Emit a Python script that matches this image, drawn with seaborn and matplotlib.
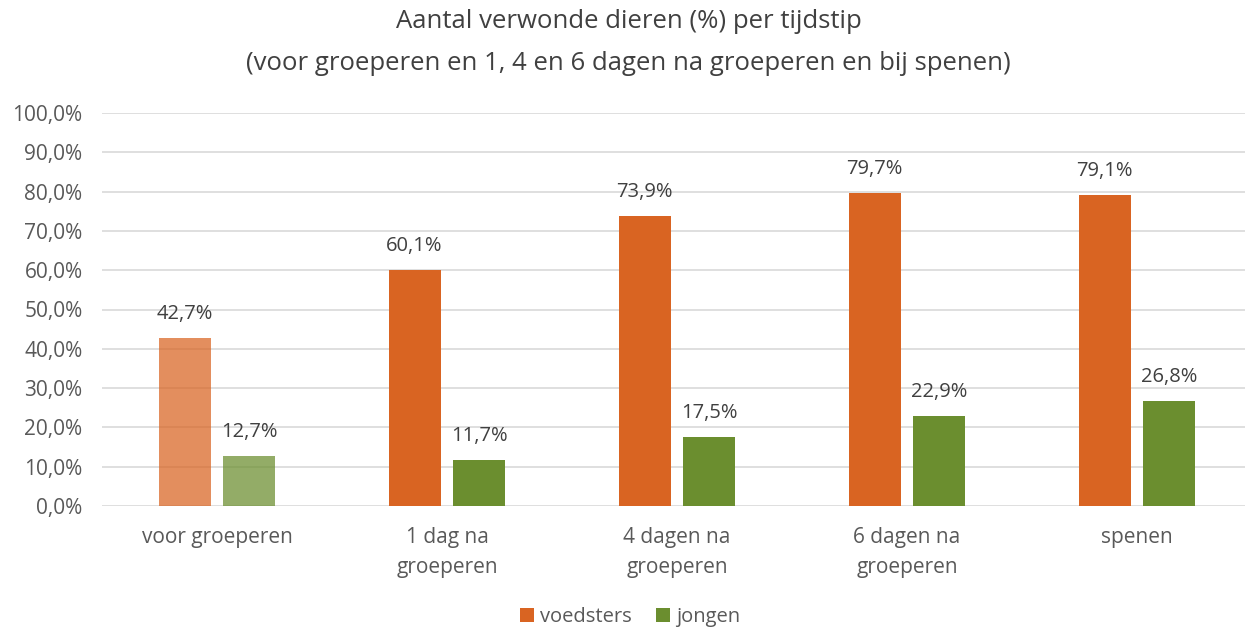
import numpy as np
import pandas as pd
import matplotlib
matplotlib.use("Agg")
import matplotlib.pyplot as plt
import seaborn as sns

# -- Datos ---------------------------------------------------------------------
tijdstippen = ["voor groeperen", "1 dag na\ngroeperen", "4 dagen na\ngroeperen",
               "6 dagen na\ngroeperen", "spenen"]
voedsters = [42.7, 60.1, 73.9, 79.7, 79.1]
jongen = [12.7, 11.7, 17.5, 22.9, 26.8]
groepen = ["voedsters", "jongen"]

COLORES = {"voedsters": "#D96422", "jongen": "#6B8E2F"}

df = pd.DataFrame({
    "tijdstip": tijdstippen * 2,
    "groep": ["voedsters"] * len(tijdstippen) + ["jongen"] * len(tijdstippen),
    "waarde": voedsters + jongen,
})

sns.set_theme(style="white")
plt.rcParams["font.family"] = ["Open Sans", "DejaVu Sans"]

fig = plt.figure(figsize=(12.45, 6.31), dpi=100)
ax = fig.add_axes([102 / 1245, 125 / 631, 1143 / 1245, 393 / 631])

sns.barplot(data=df, x="tijdstip", y="waarde", hue="groep", order=tijdstippen,
            hue_order=groepen, palette=COLORES, width=0.565, gap=0.2,
            saturation=1, linewidth=0, ax=ax, legend=True)

# eerste groep lichter
for cont in ax.containers:
    cont.patches[0].set_alpha(0.73)
    labels = [f"{v:.1f}%".replace(".", ",") for v in cont.datavalues]
    ax.bar_label(cont, labels=labels, padding=10, fontsize=14.5, color="#404040")

ax.set_ylim(0, 100)
ax.set_xlim(-0.5, -0.5 + 1143 / 230)
ax.set_yticks(np.arange(0, 101, 10))
ax.set_yticklabels([f"{v:.1f}%".replace(".", ",") for v in np.arange(0, 101, 10)])
ax.yaxis.grid(True, color="#D9D9D9", linewidth=1.2)
ax.set_axisbelow(True)
for s in ax.spines.values():
    s.set_visible(False)
ax.tick_params(axis="both", length=0, labelsize=15, colors="#595959")
ax.tick_params(axis="x", pad=15)
ax.tick_params(axis="y", pad=14)
for lbl in ax.get_xticklabels():
    lbl.set_linespacing(1.55)
ax.set_xlabel("")
ax.set_ylabel("")

ax.legend(loc="upper center", bbox_to_anchor=(528 / 1143, -0.21), ncol=2, frameon=False,
          fontsize=14.5, handlelength=0.7, handleheight=0.7, handletextpad=0.3,
          columnspacing=1.2, labelcolor="#595959")

fig.text(0.505, 1 - 22 / 631, "Aantal verwonde dieren (%) per tijdstip",
         ha="center", va="center", fontsize=18.5, color="#404040")
fig.text(0.505, 1 - 63 / 631,
         "(voor groeperen en 1, 4 en 6 dagen na groeperen en bij spenen)",
         ha="center", va="center", fontsize=18.5, color="#404040")

plt.savefig("out.png", dpi=100)
plt.close()
